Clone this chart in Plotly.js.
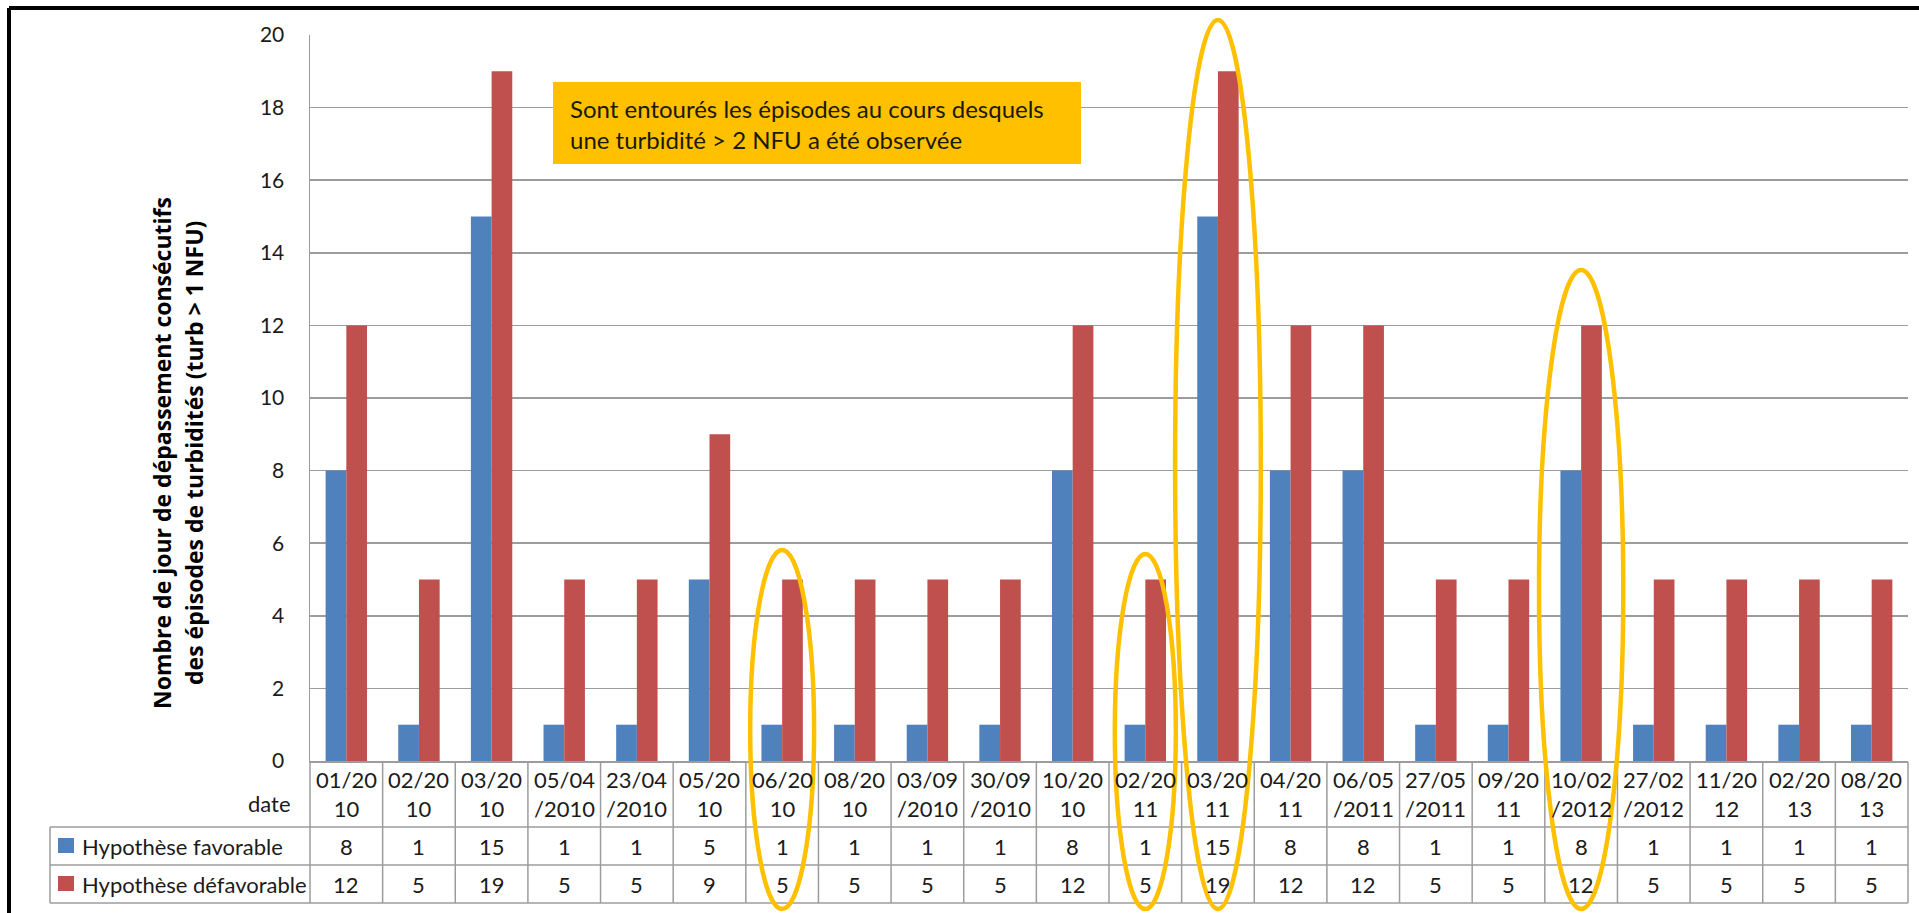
<!DOCTYPE html>
<html>
<head>
<meta charset="utf-8">
<script src="https://cdn.plot.ly/plotly-3.0.1.min.js"></script>
<style>html,body{margin:0;padding:0;background:#fff;}#chart{width:1919px;height:913px;}</style>
</head>
<body>
<div id="chart"></div>
<script>
// ---- data ----
var categories = ["01/20<br>10","02/20<br>10","03/20<br>10","05/04<br>/2010","23/04<br>/2010","05/20<br>10","06/20<br>10","08/20<br>10","03/09<br>/2010","30/09<br>/2010","10/20<br>10","02/20<br>11","03/20<br>11","04/20<br>11","06/05<br>/2011","27/05<br>/2011","09/20<br>11","10/02<br>/2012","27/02<br>/2012","11/20<br>12","02/20<br>13","08/20<br>13"];
var favorable   = [8,1,15,1,1,5,1,1,1,1,8,1,15,8,8,1,1,8,1,1,1,1];
var defavorable = [12,5,19,5,5,9,5,5,5,5,12,5,19,12,12,5,5,12,5,5,5,5];
var seriesNames = ["Hypothèse favorable","Hypothèse défavorable"];
var yTicks = [0,2,4,6,8,10,12,14,16,18,20];
var circled = ["06/20<br>10","02/20<br>11","03/20<br>11","10/02<br>/2012"];
var noteText = "Sont entourés les épisodes au cours desquels<br>une turbidité &gt; 2 NFU a été observée";
var yTitleLines = ["Nombre de jour de dépassement consécutifs","des épisodes de turbidités (turb &gt; 1 NFU)"];

// ---- layout helpers (pixel -> paper) ----
var L = 310, R = 11, T = 35, B = 152, W = 1919, H = 913;
var PW = W - L - R, PH = H - T - B;
function PX(x){ return (x - L) / PW; }
function PY(y){ return (H - B - y) / PH; }

var BLUE = "#4F81BD", RED = "#C0504D", GRID = "#9c9c9c", TXT = "#1b1b1b", GOLD = "#FFC000";
var FONT = "Lato, 'Open Sans', sans-serif";
var BOLDFONT = "'Open Sans', Lato, sans-serif";

var traces = [
  {type:"bar", x:categories, y:favorable, name:seriesNames[0], marker:{color:BLUE}, hoverinfo:"x+y+name"},
  {type:"bar", x:categories, y:defavorable, name:seriesNames[1], marker:{color:RED}, hoverinfo:"x+y+name"}
];

var shapes = [];
var annotations = [];
var n = categories.length;

// outer frame
shapes.push({type:"line", xref:"paper", yref:"paper", x0:PX(9), x1:PX(1925), y0:PY(8), y1:PY(8), line:{color:"#000", width:4}});
shapes.push({type:"line", xref:"paper", yref:"paper", x0:PX(9), x1:PX(9), y0:PY(8), y1:PY(920), line:{color:"#000", width:4}});

// data table lines
var rowTop = 762, row1 = 827, row2 = 865, rowBot = 903;
for (var i = 1; i < n; i++) {
  shapes.push({type:"line", xref:"x", yref:"paper", x0:i-0.5, x1:i-0.5, y0:PY(rowTop), y1:PY(rowBot), line:{color:GRID, width:1.5}});
}
shapes.push({type:"line", xref:"paper", yref:"paper", x0:0, x1:0, y0:PY(rowTop), y1:PY(rowBot), line:{color:GRID, width:1.5}});
shapes.push({type:"line", xref:"paper", yref:"paper", x0:1, x1:1, y0:PY(rowTop), y1:PY(rowBot), line:{color:GRID, width:1.5}});
shapes.push({type:"line", xref:"paper", yref:"paper", x0:PX(50), x1:PX(50), y0:PY(row1), y1:PY(rowBot), line:{color:GRID, width:1.5}});
[row1,row2,rowBot].forEach(function(yy){
  shapes.push({type:"line", xref:"paper", yref:"paper", x0:PX(50), x1:1, y0:PY(yy), y1:PY(yy), line:{color:GRID, width:1.5}});
});

// legend keys in table
var keyRows = [846, 884];
[BLUE, RED].forEach(function(c, k){
  shapes.push({type:"rect", xref:"paper", yref:"paper", x0:PX(58), x1:PX(74), y0:PY(keyRows[k]-8), y1:PY(keyRows[k]+7), fillcolor:c, line:{width:0}});
  annotations.push({xref:"paper", yref:"paper", x:PX(80), y:PY(keyRows[k]), xanchor:"left", yanchor:"middle", showarrow:false,
    text:seriesNames[k], font:{family:FONT, size:22, color:TXT}});
});

// table cells
for (var j = 0; j < n; j++) {
  annotations.push({xref:"x", yref:"paper", x:categories[j], y:PY(794), xanchor:"center", yanchor:"middle", showarrow:false,
    text:categories[j], font:{family:FONT, size:22, color:TXT}});
  annotations.push({xref:"x", yref:"paper", x:categories[j], y:PY(846), xanchor:"center", yanchor:"middle", showarrow:false,
    text:String(favorable[j]), font:{family:FONT, size:22, color:TXT}});
  annotations.push({xref:"x", yref:"paper", x:categories[j], y:PY(884), xanchor:"center", yanchor:"middle", showarrow:false,
    text:String(defavorable[j]), font:{family:FONT, size:22, color:TXT}});
}
annotations.push({xref:"paper", yref:"paper", x:PX(293), y:PY(803), xanchor:"right", yanchor:"middle", showarrow:false,
  text:"date", font:{family:FONT, size:22, color:TXT}});

// y-axis title (two lines)
var titleX = [162, 194];
yTitleLines.forEach(function(t, k){
  annotations.push({xref:"paper", yref:"paper", x:PX(titleX[k]), y:PY(453), xanchor:"center", yanchor:"middle", showarrow:false,
    textangle:-90, text:t, font:{family:BOLDFONT, size:23, color:"#000", weight:"bold"}});
});

// note box
shapes.push({type:"rect", xref:"paper", yref:"paper", x0:PX(553), x1:PX(1081), y0:PY(164), y1:PY(82), fillcolor:GOLD, line:{width:0}, layer:"above"});
annotations.push({xref:"paper", yref:"paper", x:PX(568), y:PY(124), xanchor:"left", yanchor:"middle", align:"left", showarrow:false,
  text:noteText, font:{family:FONT, size:24, color:"#1a1a00"}});

// yellow ellipses (geometry per circled episode)
var ellipseGeom = {
  "06/20<br>10":   {half:0.44, top:550},
  "02/20<br>11":   {half:0.42, top:554},
  "03/20<br>11":   {half:0.59, top:20},
  "10/02<br>/2012":{half:0.58, top:270}
};
circled.forEach(function(c){
  var idx = categories.indexOf(c), g = ellipseGeom[c];
  shapes.push({type:"circle", xref:"x", yref:"paper", x0:idx-g.half, x1:idx+g.half, y0:PY(909), y1:PY(g.top),
    line:{color:GOLD, width:4.5}, fillcolor:"rgba(0,0,0,0)", layer:"above"});
});

var layout = {
  width:W, height:H,
  margin:{l:L, r:R, t:T, b:B, pad:0},
  paper_bgcolor:"#fff", plot_bgcolor:"#fff",
  showlegend:false,
  barmode:"group", bargap:0.43, bargroupgap:0,
  font:{family:FONT, size:21, color:TXT},
  xaxis:{type:"category", range:[-0.5, n-0.5], showticklabels:false, ticks:"", showgrid:false,
    showline:true, linecolor:GRID, linewidth:1.5, zeroline:false, fixedrange:true},
  yaxis:{range:[0,20], tickvals:yTicks, ticktext:yTicks.map(String), showgrid:true, gridcolor:GRID, gridwidth:1.5,
    showline:true, linecolor:GRID, linewidth:1.5, zeroline:false, ticks:"", ticklabelstandoff:20,
    tickfont:{family:FONT, size:21, color:TXT}, fixedrange:true},
  shapes:shapes,
  annotations:annotations
};

Plotly.newPlot("chart", traces, layout, {displayModeBar:false, staticPlot:true});
</script>
</body>
</html>
